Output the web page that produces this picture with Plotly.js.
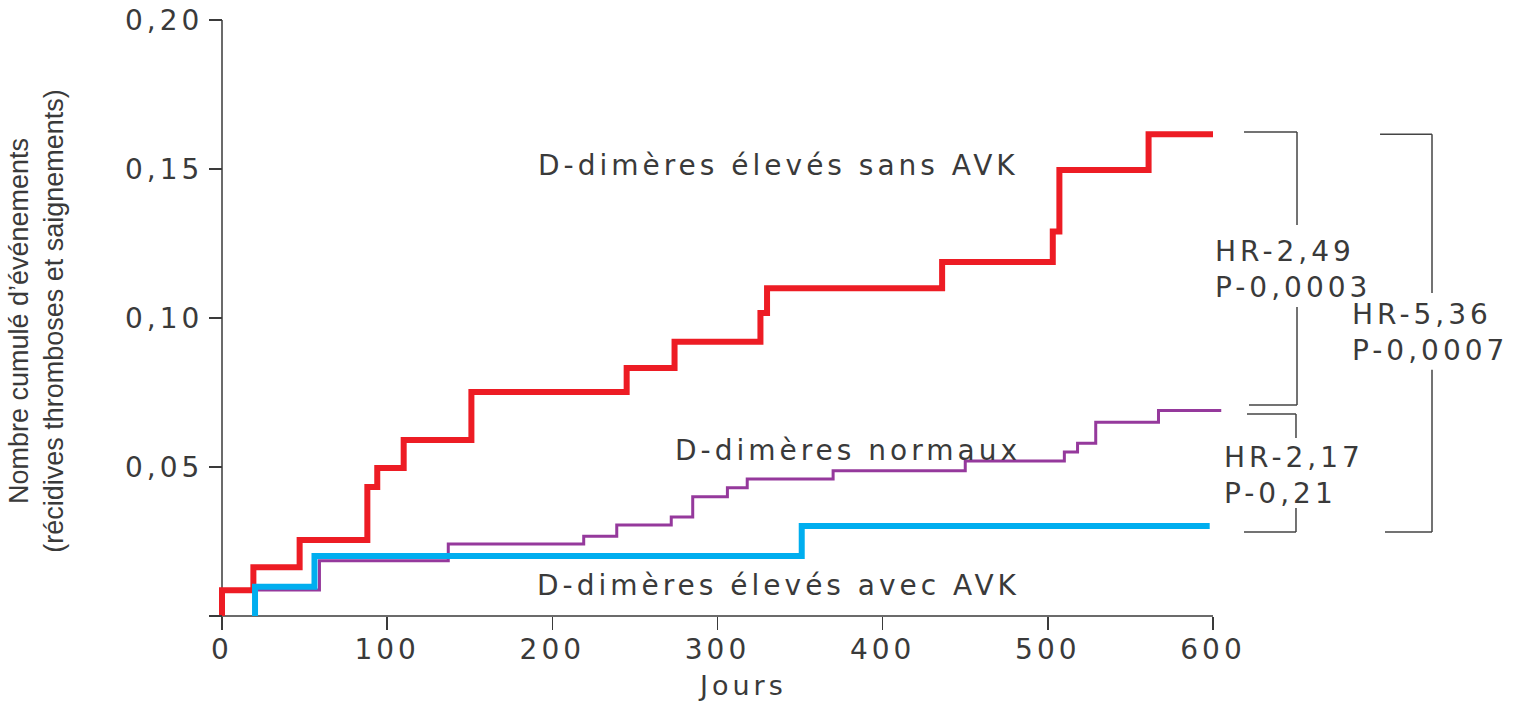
<!DOCTYPE html>
<html><head><meta charset="utf-8">
<script src="https://cdn.plot.ly/plotly-3.0.1.min.js"></script>
<style>
html,body{margin:0;padding:0;background:#fff;}
#chart .xtick text, #chart .ytick text { letter-spacing: 4px; }
#chart g.annotation text { letter-spacing: 4px; }
</style>
</head><body><div id="chart" style="width:1514px;height:705px;"></div>
<script>
// D-dimères élevés sans AVK
const sansDays   = [0, 0, 19, 47, 88, 94, 110, 151, 245, 274, 326, 330, 436, 503, 507, 561, 600];
const sansValues = [0, 0.0086, 0.0164, 0.0255, 0.0433, 0.0497, 0.0591, 0.0752, 0.0832, 0.0920, 0.1017, 0.1100, 0.1188, 0.1290, 0.1497, 0.1617, 0.1617];
// D-dimères normaux
const normDays   = [20, 20, 59, 137, 219, 239, 272, 285, 306, 318, 370, 450, 510, 518, 529, 567, 605];
const normValues = [0, 0.0087, 0.0185, 0.0242, 0.0268, 0.0305, 0.0332, 0.0400, 0.0430, 0.0460, 0.0487, 0.0520, 0.0550, 0.0580, 0.0650, 0.0690, 0.0690];
// D-dimères élevés avec AVK
const avecDays   = [20, 20, 56, 351, 598];
const avecValues = [0, 0.0098, 0.0201, 0.0302, 0.0302];

const xTickVals = [0, 100, 200, 300, 400, 500, 600];
const yTickVals = [0, 0.05, 0.10, 0.15, 0.20];
const yTickText = ['', '0,05', '0,10', '0,15', '0,20'];

const seriesLabels = ['D-dimères élevés sans AVK', 'D-dimères normaux', 'D-dimères élevés avec AVK'];
const hrLabels = ['HR-2,49<br>P-0,0003', 'HR-5,36<br>P-0,0007', 'HR-2,17<br>P-0,21'];

const txt = '#3a3a3a';
const axc = '#3a3a3a';
const wide = {family: 'DejaVu Sans, Liberation Sans, sans-serif', size: 28, color: txt};

const traces = [
  {x: sansDays, y: sansValues, mode: 'lines', line: {shape: 'hv', color: '#ED1C24', width: 6}, hoverinfo: 'skip'},
  {x: normDays, y: normValues, mode: 'lines', line: {shape: 'hv', color: '#95399C', width: 3}, hoverinfo: 'skip'},
  {x: avecDays, y: avecValues, mode: 'lines', line: {shape: 'hv', color: '#00AEEF', width: 6}, hoverinfo: 'skip'}
];

const xMax = xTickVals[xTickVals.length - 1];
const yMax = yTickVals[yTickVals.length - 1];
const redEnd = sansValues[sansValues.length - 1];
const purEnd = normValues[normValues.length - 1];
const cyaEnd = avecValues[avecValues.length - 1];

function seg(x0, y0, x1, y1) {
  return {type: 'line', xref: 'paper', yref: 'y', x0: x0, y0: y0, x1: x1, y1: y1,
          line: {color: '#444', width: 1.5}, layer: 'above'};
}

const shapes = [
  // axis lines
  {type: 'line', xref: 'x', yref: 'y', x0: 0, y0: 0, x1: xMax, y1: 0, line: {color: axc, width: 1.5}, layer: 'below'},
  {type: 'line', xref: 'x', yref: 'y', x0: 0, y0: 0, x1: 0, y1: yMax, line: {color: axc, width: 1.5}, layer: 'below'},
  // bracket HR-2,49
  seg(1.0148, redEnd + 0.0007, 1.0670, redEnd + 0.0007),
  seg(1.0670, redEnd + 0.0007, 1.0670, 0.1312),
  seg(1.0670, 0.1037, 1.0670, purEnd + 0.0018),
  seg(1.0197, purEnd + 0.0018, 1.0670, purEnd + 0.0018),
  // bracket HR-2,17
  seg(1.0177, purEnd - 0.0012, 1.0660, purEnd - 0.0012),
  seg(1.0660, purEnd - 0.0012, 1.0660, 0.0597),
  seg(1.0660, 0.0362, 1.0660, cyaEnd - 0.0020),
  seg(1.0148, cyaEnd - 0.0020, 1.0660, cyaEnd - 0.0020),
  // bracket HR-5,36
  seg(1.1488, redEnd, 1.2000, redEnd),
  seg(1.2000, redEnd, 1.2000, 0.1084),
  seg(1.2000, 0.0826, 1.2000, cyaEnd - 0.0020),
  seg(1.1537, cyaEnd - 0.0020, 1.2000, cyaEnd - 0.0020)
];

const annotations = [
  {text: seriesLabels[0], x: 337, y: 0.1513, xref: 'x', yref: 'y', showarrow: false, font: wide, xanchor: 'center', yanchor: 'middle'},
  {text: seriesLabels[1], x: 379, y: 0.0557, xref: 'x', yref: 'y', showarrow: false, font: wide, xanchor: 'center', yanchor: 'middle'},
  {text: seriesLabels[2], x: 337, y: 0.0101, xref: 'x', yref: 'y', showarrow: false, font: wide, xanchor: 'center', yanchor: 'middle'},
  {text: hrLabels[0], x: 0.9842, y: 0.1164, xref: 'paper', yref: 'y', showarrow: false, font: wide, xanchor: 'left', yanchor: 'middle', align: 'left'},
  {text: hrLabels[1], x: 1.1192, y: 0.0953, xref: 'paper', yref: 'y', showarrow: false, font: wide, xanchor: 'left', yanchor: 'middle', align: 'left'},
  {text: hrLabels[2], x: 0.9931, y: 0.0473, xref: 'paper', yref: 'y', showarrow: false, font: wide, xanchor: 'left', yanchor: 'middle', align: 'left'},
  {text: 'Jours', x: 315, y: -0.094, xref: 'x', yref: 'paper', showarrow: false,
   font: {family: wide.family, size: 27, color: txt}, xanchor: 'center', yanchor: 'middle'}
];

const layout = {
  width: 1514, height: 705,
  margin: {l: 214, r: 285, t: 14, b: 77, pad: 0},
  paper_bgcolor: '#ffffff', plot_bgcolor: '#ffffff',
  showlegend: false,
  xaxis: {
    range: [-4.844, 609.69], anchor: 'free', position: 0.01954,
    showline: false, showgrid: false, zeroline: false,
    tickmode: 'array', tickvals: xTickVals,
    ticks: 'outside', ticklen: 13, tickwidth: 1.5, tickcolor: axc,
    tickfont: wide, ticklabelstandoff: -5, automargin: false
  },
  yaxis: {
    range: [-0.004027, 0.20201], anchor: 'free', position: 0.00788,
    showline: false, showgrid: false, zeroline: false,
    tickmode: 'array', tickvals: yTickVals, ticktext: yTickText,
    ticks: 'outside', ticklen: 13, tickwidth: 1.5, tickcolor: axc,
    tickfont: wide, automargin: false,
    title: {text: 'Nombre cumulé d’événements<br>(récidives thromboses et saignements)',
            font: {family: 'Liberation Sans, Arial, sans-serif', size: 27, color: txt}, standoff: 68}
  },
  shapes: shapes,
  annotations: annotations
};

Plotly.newPlot('chart', traces, layout, {staticPlot: true, displayModeBar: false});
</script>
</body></html>
